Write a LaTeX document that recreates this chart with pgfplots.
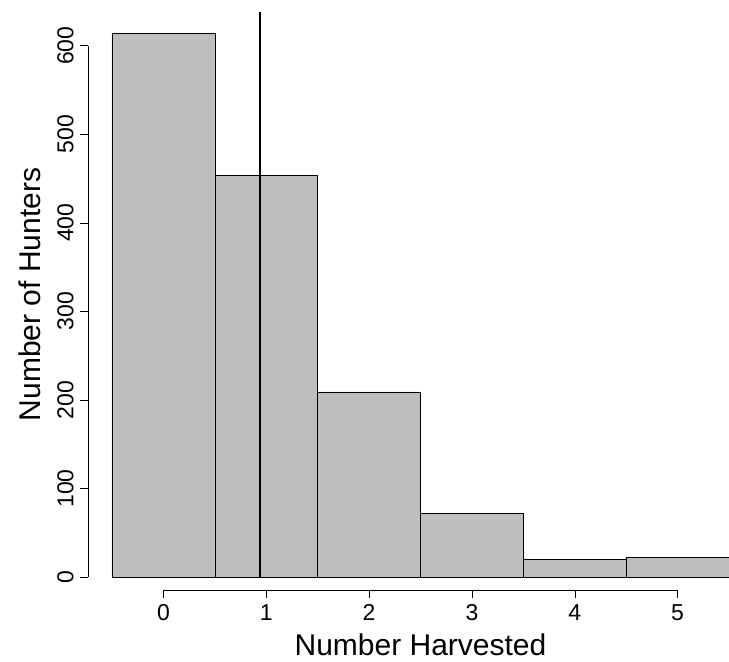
\documentclass[border=0pt]{standalone}
\usepackage{pgfplots}
\pgfplotsset{compat=1.18}
\usepackage{fontspec}
\setmainfont{Liberation Sans}
\definecolor{barg}{RGB}{190,190,190}
\begin{document}
\begin{tikzpicture}
\begin{axis}[scale only axis, width=617pt, height=565pt,
  xmin=-0.5, xmax=5.5, ymin=0, ymax=638,
  axis lines=none, clip=false]
\addplot[ybar interval, fill=barg, draw=black, line width=0.5pt] coordinates {
(-0.5,614) (0.5,454) (1.5,209) (2.5,72) (3.5,20) (4.5,22) (5.5,22)};
\addplot[black, line width=1.6pt] coordinates {(0.94,0) (0.94,638)};
\draw[line width=0.5pt] (axis cs:-0.733,0) -- (axis cs:-0.733,600);
\pgfplotsinvokeforeach{0,100,200,300,400,500,600}{
  \draw[line width=0.5pt] (axis cs:-0.733,#1) -- ++(-8pt,0pt);
  \node[rotate=90, anchor=south, font=\fontsize{23}{23}\selectfont] at ([xshift=-11pt]axis cs:-0.733,#1) {#1};
}
\draw[line width=0.5pt] (axis cs:0,-14.7) -- (axis cs:5,-14.7);
\pgfplotsinvokeforeach{0,1,2,3,4,5}{
  \draw[line width=0.5pt] (axis cs:#1,-14.7) -- ++(0pt,-8pt);
  \node[anchor=north, font=\fontsize{23}{23}\selectfont] at ([yshift=-11pt]axis cs:#1,-14.7) {#1};
}
\node[font=\fontsize{30}{30}\selectfont] at ([yshift=-68pt]rel axis cs:0.5,0) {Number Harvested};
\node[rotate=90, font=\fontsize{30}{30}\selectfont] at ([xshift=-82pt]rel axis cs:0,0.5) {Number of Hunters};
\coordinate (sw) at ([xshift=-112pt,yshift=-84pt]rel axis cs:0,0);
\coordinate (ne) at ([yshift=12pt]rel axis cs:1,1);
\end{axis}
\pgfresetboundingbox
\path (sw) rectangle (ne);
\end{tikzpicture}
\end{document}
